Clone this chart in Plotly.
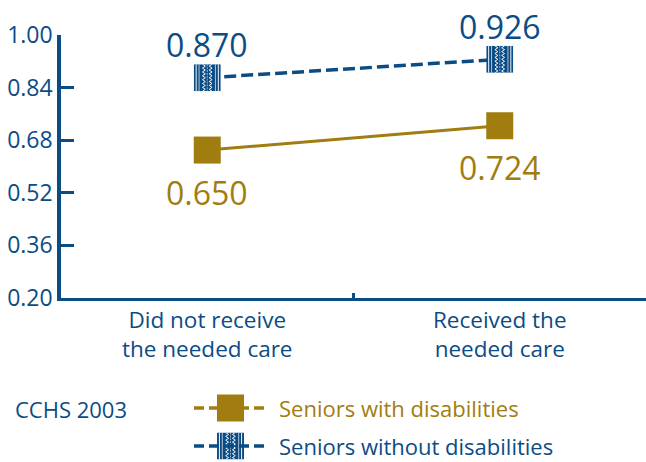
import base64
import plotly.graph_objects as go

# ---- data -------------------------------------------------------------
categories = ["Did not receive<br>the needed care", "Received the<br>needed care"]
with_disabilities = [0.650, 0.724]
without_disabilities = [0.870, 0.926]
series_names = ["Seniors with disabilities", "Seniors without disabilities"]
y_ticks = [0.20, 0.36, 0.52, 0.68, 0.84, 1.00]
source_note = "CCHS 2003"

# ---- style ------------------------------------------------------------
BLUE = "#0b4c85"
GOLD = "#a17d10"
FONT = "Open Sans"

W, H = 646, 462
M_L, M_R, M_T, M_B = 61, 0, 35, 164
PW = W - M_L - M_R
PH = H - M_T - M_B
X_RANGE = [-0.5, len(categories) - 0.5]
Y_RANGE = [0.2, 1.0]
MARK = 27  # marker edge in px


def px_x(px):
    return (px - M_L) / PW


def px_y(py):
    return (H - M_B - py) / PH


# textured square used for the second series
svg = f"""<svg xmlns='http://www.w3.org/2000/svg' width='28' height='28' viewBox='0 0 28 28'>
<rect width='28' height='28' fill='{BLUE}'/>
<g stroke='white' fill='none' stroke-width='1'>
<line x1='2.5' y1='0' x2='2.5' y2='28'/>
<line x1='5.5' y1='0' x2='5.5' y2='28' stroke-width='0.7'/>
<line x1='22.5' y1='0' x2='22.5' y2='28' stroke-width='0.7'/>
<line x1='25.5' y1='0' x2='25.5' y2='28'/>
<polyline points='9,0 12,2 9,4 12,6 9,8 12,10 9,12 12,14 9,16 12,18 9,20 12,22 9,24 12,26 9,28'/>
<polyline points='19,0 16,2 19,4 16,6 19,8 16,10 19,12 16,14 19,16 16,18 19,20 16,22 19,24 16,26 19,28'/>
<line x1='14' y1='0' x2='14' y2='28' stroke-width='0.6' stroke-dasharray='2,1'/>
</g>
</svg>"""
TEXTURE = "data:image/svg+xml;base64," + base64.b64encode(svg.encode()).decode()

fig = go.Figure()

fig.add_trace(go.Scatter(
    x=categories, y=with_disabilities, mode="lines+markers",
    name=series_names[0],
    line=dict(color=GOLD, width=3),
    marker=dict(symbol="square", size=MARK, color=GOLD, line=dict(width=0)),
    showlegend=False, hoverinfo="skip",
))
fig.add_trace(go.Scatter(
    x=categories, y=without_disabilities, mode="lines",
    name=series_names[1],
    line=dict(color=BLUE, width=3.5, dash="12px,5px"),
    showlegend=False, hoverinfo="skip",
))

sx = MARK / (PW / (X_RANGE[1] - X_RANGE[0]))
sy = MARK / (PH / (Y_RANGE[1] - Y_RANGE[0]))
images = []
for i, v in enumerate(without_disabilities):
    images.append(dict(source=TEXTURE, xref="x", yref="y", x=i, y=v,
                       sizex=sx, sizey=sy, xanchor="center", yanchor="middle",
                       sizing="stretch", layer="above"))

annotations = []
for i, v in enumerate(without_disabilities):
    annotations.append(dict(x=i, y=v, xref="x", yref="y", text=f"{v:.3f}",
                            showarrow=False, yshift=33,
                            font=dict(family=FONT, size=32, color=BLUE)))
for i, v in enumerate(with_disabilities):
    annotations.append(dict(x=i, y=v, xref="x", yref="y", text=f"{v:.3f}",
                            showarrow=False, yshift=-42,
                            font=dict(family=FONT, size=32, color=GOLD)))

# source note and legend
annotations.append(dict(x=px_x(14), y=px_y(409), xref="paper", yref="paper",
                        text=source_note, showarrow=False, xanchor="left",
                        yanchor="middle", borderpad=0,
                        font=dict(family=FONT, size=22, color=BLUE)))
legend_rows = [(408, GOLD, series_names[0]), (446, BLUE, series_names[1])]
shapes = []
for row, (py, col, name) in enumerate(legend_rows):
    shapes.append(dict(type="line", xref="paper", yref="paper",
                       x0=px_x(194), x1=px_x(268), y0=px_y(py), y1=px_y(py),
                       line=dict(color=col, width=3.5, dash="10px,5px")))
    if row == 0:
        shapes.append(dict(type="rect", xref="paper", yref="paper",
                           x0=px_x(217), x1=px_x(244),
                           y0=px_y(py - 13.5), y1=px_y(py + 13.5),
                           fillcolor=col, line=dict(width=0), layer="above"))
    else:
        images.append(dict(source=TEXTURE, xref="paper", yref="paper",
                           x=px_x(230.5), y=px_y(py), sizex=27 / PW, sizey=27 / PH,
                           xanchor="center", yanchor="middle", sizing="stretch",
                           layer="above"))
    annotations.append(dict(x=px_x(278), y=px_y(py), xref="paper", yref="paper",
                            text=name, showarrow=False, xanchor="left",
                            yanchor="middle", borderpad=0,
                            font=dict(family=FONT, size=22, color=col)))

fig.update_layout(
    width=W, height=H,
    margin=dict(l=M_L, r=M_R, t=M_T, b=M_B, pad=0),
    paper_bgcolor="white", plot_bgcolor="white",
    font=dict(family=FONT, color=BLUE),
    showlegend=False,
    images=images, annotations=annotations, shapes=shapes,
    xaxis=dict(type="category", range=X_RANGE, showgrid=False, zeroline=False,
               showline=True, linecolor=BLUE, linewidth=3,
               ticks="inside", tickson="boundaries", ticklen=5, tickwidth=3,
               tickcolor=BLUE, tickfont=dict(family=FONT, size=22.5, color=BLUE)),
    yaxis=dict(range=Y_RANGE, tickvals=y_ticks, tickformat=".2f",
               showgrid=False, zeroline=False, showline=True, linecolor=BLUE,
               linewidth=3.5, ticks="inside", ticklen=13, tickwidth=3,
               tickcolor=BLUE, tickfont=dict(family=FONT, size=23, color=BLUE)),
)

fig.write_html("out.html")
